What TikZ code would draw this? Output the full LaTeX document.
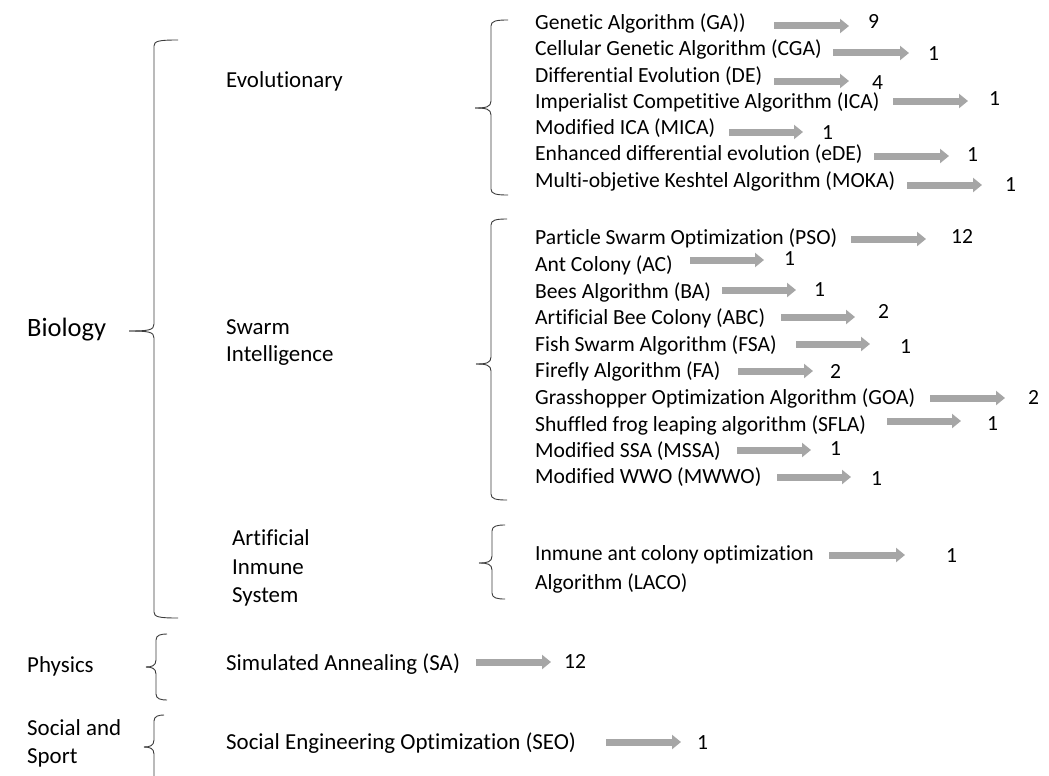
\documentclass[tikz,border=0pt]{standalone}
\usepackage{fontspec}
\setmainfont[Ligatures={NoCommon}]{Carlito}
\usetikzlibrary{arrows.meta}
\definecolor{arrowgray}{HTML}{A6A6A6}
\definecolor{bracegray}{HTML}{3C3C3C}

% curly brace opening to the right: #1 spine x, #2 hook end x, #3 tip x,
% #4 top y, #5 tip y, #6 bottom y
\newcommand\catbrace[6]{%
  \draw[bracestyle] (#2,#4) .. controls (#1+5,#4) and (#1,#4+1) .. (#1,#4+6)
    -- (#1,#5-7) .. controls (#1,#5-1) and (#1-5,#5) .. (#3,#5);
  \draw[bracestyle] (#3,#5) .. controls (#1-5,#5) and (#1,#5+1) .. (#1,#5+7)
    -- (#1,#6-6) .. controls (#1,#6-1) and (#1+5,#6) .. (#2,#6);
}

\begin{document}
\begin{tikzpicture}[x={(1pt,0)}, y={(0,-1pt)},
  bracestyle/.style={draw=bracegray, line width=0.9pt},
  cat/.style={font=\fontsize{22.9}{27}\selectfont, anchor=base west, inner sep=0pt, yshift=-7.4pt},
  algo/.style={font=\fontsize{21.6}{26}\selectfont, anchor=base west, inner sep=0pt, yshift=-7pt},
  tally/.style={font=\fontsize{21.6}{26}\selectfont, anchor=base west, inner sep=0pt, yshift=-7pt},
  fat/.style={draw=arrowgray, line width=7pt, -{Triangle[length=9pt,width=14pt]}}]

\fill[white] (0,0) rectangle (1049,776);
\useasboundingbox (0,0) rectangle (1049,776);

% top-level fields
\node[cat, font=\fontsize{26.5}{30}\selectfont, yshift=-1pt] (biology) at (27,328) {Biology};
\node[cat] (physics) at (27,665) {Physics};
\node[cat] (social1) at (27,728) {Social and};
\node[cat] (social2) at (27,756) {Sport};

% families
\node[cat] (evo) at (226,80) {Evolutionary};
\node[cat] (swarm1) at (226,327) {Swarm};
\node[cat] (swarm2) at (226,354) {Intelligence};
\node[cat] (ais1) at (232,538) {Artificial};
\node[cat] (ais2) at (232,567) {Inmune};
\node[cat] (ais3) at (232,595) {System};

% braces
\catbrace{154}{178}{129}{40}{331}{618}
\catbrace{156}{167}{146}{634}{667}{700}
\draw[bracestyle] (164,715) .. controls (159,715) and (154,716) .. (154,721)
  -- (154,740) .. controls (154,746) and (149,747) .. (144,747);
\draw[bracestyle] (144,747) .. controls (149,747) and (154,748) .. (154,754) -- (154,777);
\catbrace{491}{508}{475}{20}{108}{195}
\catbrace{491}{507}{476}{219}{364}{500}
\catbrace{492}{505}{479}{525}{563}{599}

% algorithms with their counts
\foreach \id/\txt/\ty/\ax/\bx/\ay/\num/\nx/\ny in {
  ga/{Genetic Algorithm (GA))}/23/774/849/26/9/868/22,
  cga/{Cellular Genetic Algorithm (CGA)}/49/833/909/53/1/928/53,
  de/{Differential Evolution (DE)}/75/774/849/81/4/872/82,
  ica/{Imperialist Competitive Algorithm (ICA)}/101/893/968/101/1/989/98,
  mica/{Modified ICA (MICA)}/127/729/803/132/1/822/132,
  ede/{Enhanced differential evolution (eDE)}/153/874/949/156/1/967/154,
  moka/{Multi-objetive Keshtel Algorithm (MOKA)}/180/907/982/185/1/1005/184,
  pso/{Particle Swarm Optimization (PSO)}/237/851/926/239/12/951/236,
  ac/{Ant Colony (AC)}/264/690/764/260/1/784/258,
  ba/{Bees Algorithm (BA)}/291/722/796/290/1/814/289,
  abc/{Artificial Bee Colony (ABC)}/317/781/855/317/2/878/311,
  fsa/{Fish Swarm Algorithm (FSA)}/344/796/870/344/1/900/346,
  fa/{Firefly Algorithm (FA)}/370/738/813/371/2/830/371,
  goa/{Grasshopper Optimization Algorithm (GOA)}/397/930/1005/398/2/1028/397,
  sfla/{Shuffled frog leaping algorithm (SFLA)}/424/887/961/421/1/987/423,
  mssa/{Modified SSA (MSSA)}/450/737/811/450/1/830/448,
  mwwo/{Modified WWO (MWWO)}/476/777/851/477/1/871/478}{
  \node[algo] (\id) at (535,\ty) {\txt};
  \node[tally] (\id-n) at (\nx,\ny) {\num};
  \coordinate (\id-s) at (\ax,\ay);
  \coordinate (\id-e) at (\bx,\ay);
  \draw[fat] (\id-s) -- (\id-e);
}

% immune ant colony
\node[algo] (laco1) at (535,553) {Inmune ant colony optimization};
\node[algo] (laco2) at (535,582) {Algorithm (LACO)};
\node[tally] (laco-n) at (946,555) {1};
\coordinate (laco-s) at (829,555);
\coordinate (laco-e) at (905,555);
\draw[fat] (laco-s) -- (laco-e);

% simulated annealing
\node[cat] (sa) at (226,663) {Simulated Annealing (SA)};
\node[tally] (sa-n) at (564,661) {12};
\coordinate (sa-s) at (476,662);
\coordinate (sa-e) at (551,662);
\draw[fat] (sa-s) -- (sa-e);

% social engineering optimization
\node[cat] (seo) at (226,742) {Social Engineering Optimization (SEO)};
\node[tally] (seo-n) at (697,742) {1};
\coordinate (seo-s) at (606,742);
\coordinate (seo-e) at (681,742);
\draw[fat] (seo-s) -- (seo-e);
\end{tikzpicture}
\end{document}
